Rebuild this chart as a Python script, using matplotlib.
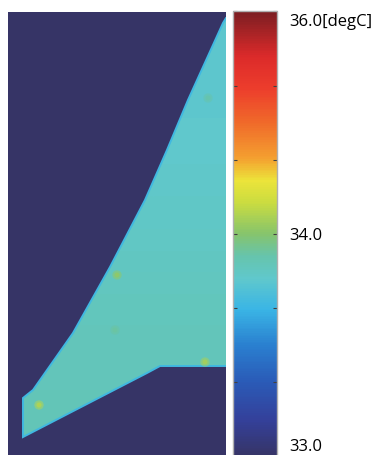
import numpy as np
import matplotlib
matplotlib.use("Agg")
import matplotlib.pyplot as plt
import matplotlib.transforms as mtransforms
from matplotlib.colors import LinearSegmentedColormap, TwoSlopeNorm
from matplotlib.patches import Polygon

# outline of the heated plate (x, y in mm, y measured from the bottom)
plate_x = [218, 215, 180, 159, 137, 102, 65, 25, 15, 15, 139, 152, 222, 222]
plate_y = [437, 432, 355, 305, 255, 188, 122, 65, 57, 18, 82, 89, 89, 437]

# temperatures [degC]
t_ambient = 33.0
t_edge = 33.68

# plate temperature at a few heights
level_y = [18, 120, 240, 340, 437]
level_t = [33.86, 33.85, 33.82, 33.80, 33.79]

# local hot spots on the plate
spot_x = [31, 109, 107, 197, 200]
spot_y = [50, 180, 125, 93, 357]
spot_t = [34.2, 34.05, 33.92, 34.15, 33.9]

# colour bar
cbar_ticks = [33.0, 34.0, 36.0]
cbar_labels = ["33.0", "34.0", "36.0[degC]"]
cbar_minor = [33.333, 33.667, 34.667, 35.333]

stops = [
    (0.00, "#363466"),
    (0.08, "#34409a"),
    (0.17, "#2a5cb8"),
    (0.25, "#2a80d0"),
    (0.33, "#3ab5e5"),
    (0.40, "#60c8cc"),
    (0.45, "#66c4ac"),
    (0.50, "#86c46c"),
    (0.57, "#cadc40"),
    (0.62, "#ece43a"),
    (0.67, "#f4a030"),
    (0.75, "#f06a2a"),
    (0.83, "#ec3c2c"),
    (0.90, "#dc2a2a"),
    (1.00, "#7c1e22"),
]
cmap = LinearSegmentedColormap.from_list("thermo", stops)
norm = TwoSlopeNorm(vmin=33.0, vcenter=34.0, vmax=36.0)

plt.rcParams["font.family"] = ["Open Sans", "DejaVu Sans"]

fig = plt.figure(figsize=(3.74, 4.55), dpi=100)
ax = fig.add_axes([8 / 374, 0.0, 218 / 374, 443 / 455])
ax.set_facecolor(cmap(norm(t_ambient)))

# plate field, clipped to the plate outline
field = np.array(level_t).reshape(-1, 1)
img = ax.imshow(field, cmap=cmap, norm=norm, origin="lower", aspect="auto",
                interpolation="bilinear",
                extent=(0, 222, level_y[0], level_y[-1]))
outline = Polygon(list(zip(plate_x, plate_y)), closed=True, facecolor="none",
                  edgecolor=cmap(norm(t_edge)), linewidth=1.4)
ax.add_patch(outline)
img.set_clip_path(outline)

ax.scatter(spot_x, spot_y, c=spot_t, cmap=cmap, norm=norm, s=45,
           alpha=0.5, edgecolors="none")
ax.scatter(spot_x, spot_y, c=spot_t, cmap=cmap, norm=norm, s=14,
           alpha=0.8, edgecolors="none")

ax.set_xlim(0, 218)
ax.set_ylim(0, 443)
ax.set_xticks([])
ax.set_yticks([])
for s in ax.spines.values():
    s.set_visible(False)

cax = fig.add_axes([233 / 374, -0.003, 44 / 374, 445 / 455])
sm = matplotlib.cm.ScalarMappable(norm=norm, cmap=cmap)
cb = fig.colorbar(sm, cax=cax)
cb.outline.set_edgecolor("#b0b0b0")
cb.outline.set_linewidth(1.0)
cax.set_yticks(cbar_ticks)
cax.set_yticklabels(cbar_labels)
cax.set_yticks(cbar_minor, minor=True)
cax.tick_params(which="both", direction="in", left=True, right=True,
                length=3, width=0.8, color="#404040", pad=9,
                labelsize=12)

# end labels sit inside the bar ends
labels = cax.get_yticklabels()
labels[0].set_va("baseline")
labels[0].set_transform(labels[0].get_transform() +
                        mtransforms.ScaledTranslation(0, 4 / 72, fig.dpi_scale_trans))
labels[2].set_va("top")
labels[2].set_transform(labels[2].get_transform() +
                        mtransforms.ScaledTranslation(0, -2 / 72, fig.dpi_scale_trans))

fig.savefig("out.png", dpi=100)
